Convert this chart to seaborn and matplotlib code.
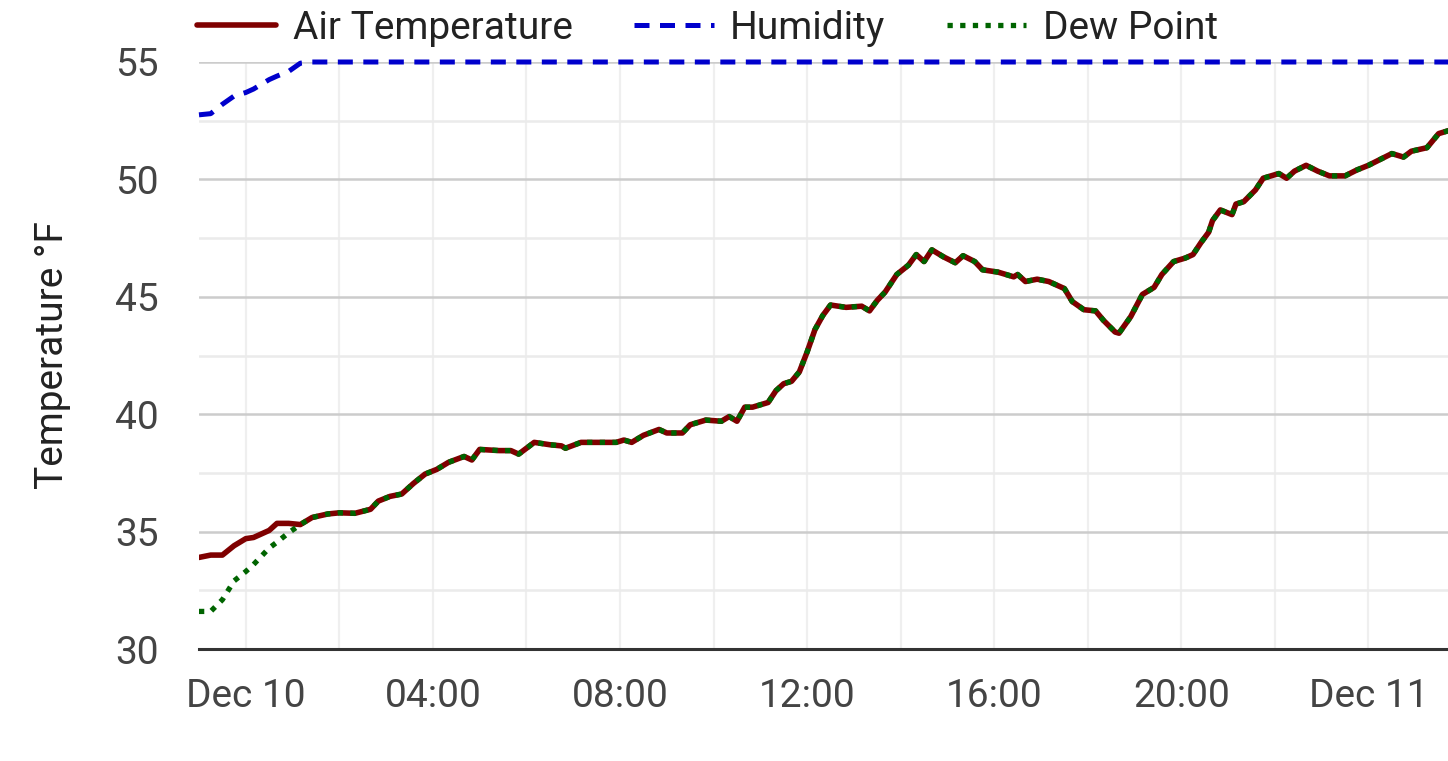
import pandas as pd
import matplotlib.pyplot as plt
import matplotlib.dates as mdates
from matplotlib.ticker import MultipleLocator, FuncFormatter
import seaborn as sns

# minutes after Dec 10 00:00 for each reading
minutes = [-60, -45, -30, -15, 0, 10, 30, 40, 55, 70, 85, 105, 120, 140, 160, 170, 185, 200,
           215, 230, 245, 260, 280, 290, 300, 325, 340, 350, 370, 390, 405, 410, 430, 460,
           475, 485, 495, 510, 530, 540, 560, 570, 590, 610, 620, 630, 640, 650, 670, 680,
           690, 700, 710, 720, 730, 740, 750, 770, 790, 800, 810, 820, 835, 850, 860, 870,
           880, 895, 910, 920, 935, 945, 965, 985, 990, 1000, 1015, 1030, 1050, 1060, 1075,
           1090, 1100, 1115, 1120, 1135, 1150, 1165, 1175, 1190, 1205, 1215, 1225, 1235,
           1240, 1250, 1265, 1270, 1280, 1295, 1305, 1325, 1335, 1345, 1360, 1375, 1390,
           1410, 1425, 1440, 1455, 1470, 1485, 1495, 1515, 1530, 1545]

air_temp = [33.9, 34.0, 34.0, 34.4, 34.7, 34.75, 35.05, 35.35, 35.35, 35.3, 35.6, 35.75, 35.8,
            35.78, 35.95, 36.3, 36.5, 36.6, 37.05, 37.45, 37.65, 37.95, 38.2, 38.05, 38.5,
            38.45, 38.45, 38.3, 38.8, 38.7, 38.65, 38.55, 38.8, 38.8, 38.8, 38.9, 38.8, 39.1,
            39.35, 39.2, 39.2, 39.55, 39.75, 39.7, 39.9, 39.7, 40.3, 40.3, 40.5, 41.0, 41.3,
            41.4, 41.8, 42.65, 43.6, 44.2, 44.65, 44.55, 44.6, 44.4, 44.85, 45.2, 45.95, 46.35,
            46.8, 46.5, 47.0, 46.7, 46.45, 46.75, 46.5, 46.15, 46.05, 45.85, 45.95, 45.65,
            45.75, 45.65, 45.35, 44.8, 44.45, 44.4, 44.0, 43.5, 43.45, 44.15, 45.1, 45.4,
            45.95, 46.5, 46.65, 46.8, 47.3, 47.75, 48.25, 48.7, 48.5, 48.95, 49.05, 49.55,
            50.05, 50.25, 50.05, 50.35, 50.6, 50.35, 50.15, 50.15, 50.4, 50.6, 50.85, 51.1,
            50.95, 51.2, 51.35, 51.95, 52.1]

dew_point = [31.6, 31.6, 32.1, 32.9, 33.3, 33.6, 34.3, 34.55, 34.95, 35.3, 35.6, 35.75, 35.8,
             35.78, 35.95, 36.3, 36.5, 36.6, 37.05, 37.45, 37.65, 37.95, 38.2, 38.05, 38.5,
             38.45, 38.45, 38.3, 38.8, 38.7, 38.65, 38.55, 38.8, 38.8, 38.8, 38.9, 38.8, 39.1,
             39.35, 39.2, 39.2, 39.55, 39.75, 39.7, 39.9, 39.7, 40.3, 40.3, 40.5, 41.0, 41.3,
             41.4, 41.8, 42.65, 43.6, 44.2, 44.65, 44.55, 44.6, 44.4, 44.85, 45.2, 45.95, 46.35,
             46.8, 46.5, 47.0, 46.7, 46.45, 46.75, 46.5, 46.15, 46.05, 45.85, 45.95, 45.65,
             45.75, 45.65, 45.35, 44.8, 44.45, 44.4, 44.0, 43.5, 43.45, 44.15, 45.1, 45.4,
             45.95, 46.5, 46.65, 46.8, 47.3, 47.75, 48.25, 48.7, 48.5, 48.95, 49.05, 49.55,
             50.05, 50.25, 50.05, 50.35, 50.6, 50.35, 50.15, 50.15, 50.4, 50.6, 50.85, 51.1,
             50.95, 51.2, 51.35, 51.95, 52.1]

humidity = [52.75, 52.8, 53.2, 53.55, 53.7, 53.85, 54.25, 54.4, 54.6, 54.95] + [55.0] * 107

base = pd.Timestamp('2023-12-10')
times = base + pd.to_timedelta(minutes, unit='min')
df = pd.DataFrame({'Time': times, 'Air Temperature': air_temp,
                   'Humidity': humidity, 'Dew Point': dew_point})

sns.set_theme(style='white')
plt.rcParams['font.family'] = ['Roboto', 'DejaVu Sans']

fig = plt.figure(figsize=(14.48, 7.61), dpi=100)
ax = fig.add_axes([199 / 1448, 1 - 649 / 761, 1 - 199 / 1448, 587 / 761])

sns.lineplot(data=df, x='Time', y='Air Temperature', ax=ax, color='#7f0000',
             linewidth=4.0, label='Air Temperature', zorder=3)
sns.lineplot(data=df, x='Time', y='Humidity', ax=ax, color='#0000cc',
             linewidth=3.6, linestyle=(0, (3.0, 2.1)), label='Humidity', zorder=3, clip_on=False)
sns.lineplot(data=df, x='Time', y='Dew Point', ax=ax, color='#006400',
             linewidth=3.8, linestyle=(0, (1, 1.4)), label='Dew Point', zorder=4)

ax.set_xlim(base - pd.Timedelta(minutes=60), base + pd.Timedelta(minutes=1542))
ax.set_ylim(30, 55)

# x ticks every 4 hours, grid every 2 hours
ax.xaxis.set_major_locator(mdates.HourLocator(byhour=range(0, 24, 4)))
ax.xaxis.set_minor_locator(mdates.HourLocator(byhour=range(0, 24, 2)))


def fmt_time(x, pos=None):
    d = mdates.num2date(x)
    if d.hour == 0 and d.minute == 0:
        return d.strftime('%b %d')
    return d.strftime('%H:%M')


ax.xaxis.set_major_formatter(FuncFormatter(fmt_time))
ax.yaxis.set_major_locator(MultipleLocator(5))
ax.yaxis.set_minor_locator(MultipleLocator(2.5))

ax.set_axisbelow(True)
ax.grid(which='both', axis='x', color='#efefef', linewidth=1.6)
ax.grid(which='minor', axis='y', color='#ebebeb', linewidth=1.8)
ax.grid(which='major', axis='y', color='#cccccc', linewidth=1.8)

for side in ['top', 'right', 'left']:
    ax.spines[side].set_visible(False)
ax.spines['bottom'].set_color('#333333')
ax.spines['bottom'].set_linewidth(2.2)

ax.tick_params(axis='both', which='both', length=0)
ax.tick_params(axis='x', labelsize=28, labelcolor='#444444', pad=21)
ax.tick_params(axis='y', labelsize=28, labelcolor='#444444', pad=29)

ax.set_xlabel('')
ax.set_ylabel('Temperature °F', fontsize=28, color='#222222', labelpad=32)

ax.legend(loc='center left', bbox_to_anchor=(-0.002, 1.057), ncol=3, frameon=False,
          fontsize=28, labelcolor='#222222', handlelength=2.05, handletextpad=0.42,
          columnspacing=1.58, borderpad=0, borderaxespad=0)

plt.savefig('out.png', dpi=100)
